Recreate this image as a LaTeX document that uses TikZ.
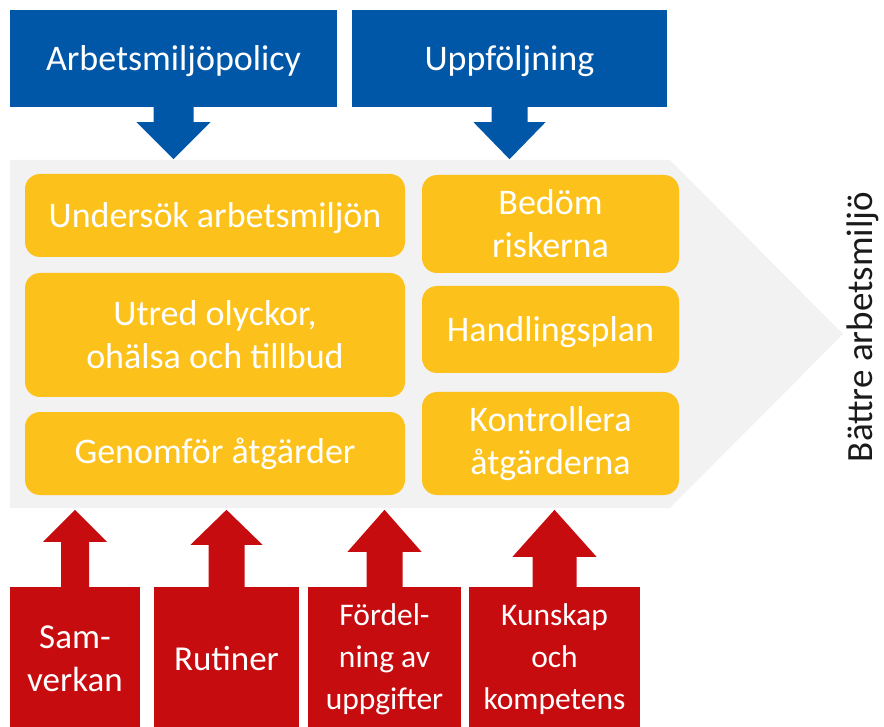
\documentclass[tikz,border=0pt]{standalone}
\usepackage{fontspec}
\setmainfont{Carlito}
\usetikzlibrary{calc}
\definecolor{bluec}{HTML}{0057A8}
\definecolor{redc}{HTML}{C70C10}
\definecolor{yelc}{HTML}{FCC21B}
\definecolor{grayc}{HTML}{F2F2F2}
\definecolor{txtc}{HTML}{1A1A1A}
\begin{document}
\begin{tikzpicture}[x=1pt,y=-1pt,
  bluebox/.style={fill=bluec,text=white,inner sep=0pt,minimum height=97pt,align=center,text depth=0pt,font=\fontsize{36}{43}\selectfont},
  yelbox/.style={fill=yelc,text=white,inner sep=0pt,rounded corners=15pt,align=center,font=\fontsize{36}{43}\selectfont},
  redbox/.style={fill=redc,text=white,inner sep=0pt,minimum height=144pt,align=center},
  bigfont/.style={font=\fontsize{35}{43}\selectfont},
  smallfont/.style={font=\fontsize{31.5}{42}\selectfont},
  barrow/.style={fill=bluec},
  rarrow/.style={fill=redc}
]
\useasboundingbox (0,0) rectangle (884,727);
\clip (0,0) rectangle (884,727);

% grey chevron
\fill[grayc] (10,160) coordinate (g1) -- (670,160) -- (843,334) coordinate (gtip) -- (670,508) -- (10,508) -- cycle;

% blue boxes
\node[bluebox,minimum width=327pt] (b1) at (173.5,58.5) {Arbetsmiljöpolicy};
\node[bluebox,minimum width=315pt] (b2) at (509.5,58.5) {Uppföljning};

% blue arrows
\fill[barrow,shift={(b1.south)}] (-20,0) -- (-20,15) -- (-37,15) -- (0,52) -- (37,15) -- (20,15) -- (20,0) -- cycle;
\fill[barrow,shift={(b2.south)}] (-18,0) -- (-18,15) -- (-36,15) -- (0,52) -- (36,15) -- (18,15) -- (18,0) -- cycle;

% yellow boxes, left column
\node[yelbox,text depth=0pt,minimum width=380pt,minimum height=83pt] (y1) at (215,215.5) {Undersök arbetsmiljön};
\node[yelbox,minimum width=380pt,minimum height=124pt] (y2) at (215,335) {Utred olyckor,\\ohälsa och tillbud};
\node[yelbox,minimum width=380pt,minimum height=83pt] (y3) at (215,453.5) {Genomför åtgärder};
% right column
\node[yelbox,minimum width=257pt,minimum height=98pt] (y4) at (550.5,224) {Bedöm\\riskerna};
\node[yelbox,text depth=0pt,minimum width=257pt,minimum height=87pt] (y5) at (550.5,329.5) {Handlingsplan};
\node[yelbox,minimum width=257pt,minimum height=103pt] (y6) at (550.5,443.5) {Kontrollera\\åtgärderna};

% result text
\node[rotate=90,text=txtc,font=\fontsize{37}{44}\selectfont,inner sep=0pt] (res) at (863,327) {Bättre arbetsmiljö};

% red boxes
\node[redbox,bigfont,minimum width=130pt] (r1) at (75,659) {Sam-\\verkan};
\node[redbox,bigfont,minimum width=145pt] (r2) at (226.5,659) {Rutiner};
\node[redbox,smallfont,minimum width=153pt] (r3) at (384.5,659) {Fördel-\\ning av\\uppgifter};
\node[redbox,smallfont,minimum width=171pt] (r4) at (554.5,659) {Kunskap\\och\\kompetens};

% red arrows
\fill[rarrow,shift={(r1.north)}] (-14,0) -- (-14,-45) -- (-32,-45) -- (0,-77) -- (32,-45) -- (14,-45) -- (14,0) -- cycle;
\fill[rarrow,shift={(r2.north)}] (-18,0) -- (-18,-42) -- (-36,-42) -- (0,-77) -- (36,-42) -- (18,-42) -- (18,0) -- cycle;
\fill[rarrow,shift={(r3.north)}] (-18,0) -- (-18,-35) -- (-37,-35) -- (0,-77) -- (37,-35) -- (18,-35) -- (18,0) -- cycle;
\fill[rarrow,shift={(r4.north)}] (-22,0) -- (-22,-30) -- (-42,-30) -- (0,-77) -- (42,-30) -- (22,-30) -- (22,0) -- cycle;
\end{tikzpicture}
\end{document}
